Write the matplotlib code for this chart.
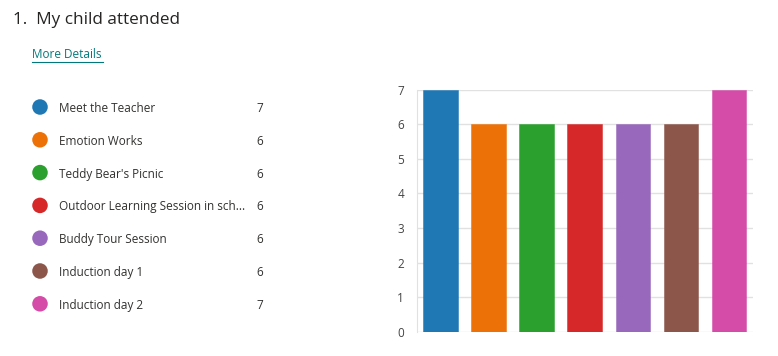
import matplotlib.pyplot as plt
import numpy as np

plt.rcParams['font.family'] = ['Open Sans', 'DejaVu Sans']

categories = ['Meet the Teacher', 'Emotion Works', "Teddy Bear's Picnic",
              'Outdoor Learning Session in sch...', 'Buddy Tour Session',
              'Induction day 1', 'Induction day 2']
counts = [7, 6, 6, 6, 6, 6, 7]
colors = ['#1f77b4', '#ec7106', '#2ca02e', '#d62829', '#9868bc', '#8c564b', '#d44ba8']
yticks = [0, 1, 2, 3, 4, 5, 6, 7]

W, H = 778, 356
fig = plt.figure(figsize=(W / 100, H / 100), dpi=100)

# overlay in pixel coords for the header and legend list
over = fig.add_axes([0, 0, 1, 1])
over.set_xlim(0, W)
over.set_ylim(H, 0)
over.axis('off')

over.text(13, 19.5, '1.  My child attended', fontsize=12.3, color='#252423', va='center')
over.text(32, 55, 'More Details', fontsize=8.5, color='#03787c', va='center')
over.plot([32, 103], [62, 62], color='#03787c', lw=0.8)

row_y = 107 + np.arange(len(categories)) * 32.8
over.scatter(np.full(len(categories), 40), row_y, s=125, c=colors, linewidths=0)
for y, name, v in zip(row_y, categories, counts):
    over.text(59, y + 1.5, name, fontsize=8.5, color='#323130', va='center')
    over.text(260, y + 1.5, str(v), fontsize=8.5, color='#323130', va='center', ha='center')

# bar chart
ax = fig.add_axes([416.5 / W, 1 - 331.7 / H, (753 - 416.5) / W, (331.7 - 89.7) / H])
x = np.arange(len(categories))
ax.bar(x, counts, width=0.72, color=colors, edgecolor=[c + '99' for c in colors],
       linewidth=0.6, zorder=3)
ax.set_xlim(-0.5, len(categories) - 0.5)
ax.set_ylim(0, 7)
ax.set_yticks(yticks)
ax.set_xticks([])
ax.grid(axis='y', color='#e1e1e1', lw=1, zorder=0)
for s in ['top', 'right', 'bottom']:
    ax.spines[s].set_visible(False)
ax.spines['left'].set_color('#e1e1e1')
ax.tick_params(axis='y', length=0, pad=9, labelsize=8.5, labelcolor='#444444')

fig.savefig('out.png', dpi=100)
